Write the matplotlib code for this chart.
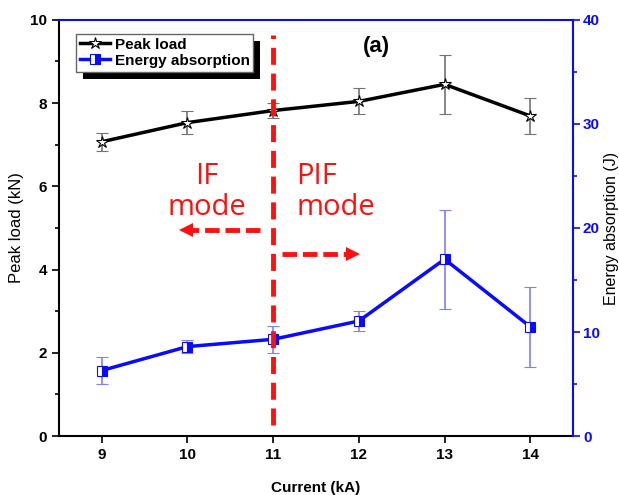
import matplotlib
matplotlib.use('Agg')
import matplotlib.pyplot as plt
from matplotlib.patches import Rectangle
from matplotlib.ticker import MultipleLocator

plt.rcParams['font.family'] = ['Liberation Sans', 'DejaVu Sans']

# data
current = [9, 10, 11, 12, 13, 14]
peak_load = [7.07, 7.53, 7.82, 8.04, 8.45, 7.69]
peak_err = [0.21, 0.27, 0.17, 0.31, 0.71, 0.44]
energy = [6.3, 8.6, 9.3, 11.06, 17.0, 10.5]
energy_err = [1.28, 0.6, 1.28, 1.0, 4.75, 3.85]

fig = plt.figure(figsize=(6.19, 4.95), dpi=100)
ax = fig.add_axes([0.095, 0.119, 0.831, 0.841])
ax2 = ax.twinx()

# peak load (left axis)
pl = ax.errorbar(current, peak_load, yerr=peak_err, color='black', lw=2.5,
                 marker='*', ms=9, mfc='white', mec='black', mew=0.8,
                 ecolor='0.45', elinewidth=1.2, capsize=4, capthick=1.2,
                 zorder=3)

# energy absorption (right axis)
en = ax2.errorbar(current, energy, yerr=energy_err, color='#0a0aff', lw=2.5,
                  marker='s', ms=7, fillstyle='right', mfc='#0a0aff',
                  mfcalt='white', mec='#0a0aff', mew=0.8,
                  ecolor='#7f7fff', elinewidth=1.2, capsize=4, capthick=1.2,
                  zorder=3)

ax.set_xlim(8.5, 14.5)
ax.set_ylim(0, 10)
ax2.set_ylim(0, 40)
ax.set_xticks(current)
ax.yaxis.set_major_locator(MultipleLocator(2))
ax.yaxis.set_minor_locator(MultipleLocator(1))
ax2.yaxis.set_major_locator(MultipleLocator(10))
ax2.yaxis.set_minor_locator(MultipleLocator(5))

for lab in ax.get_xticklabels() + ax.get_yticklabels():
    lab.set_fontweight('bold')
    lab.set_fontsize(11)
for lab in ax2.get_yticklabels():
    lab.set_fontweight('bold')
    lab.set_fontsize(11)
    lab.set_color('#0a0aff')

ax.tick_params(axis='both', which='both', direction='out', width=1.2)
ax.tick_params(axis='x', length=5)
ax.tick_params(axis='y', which='major', length=5)
ax.tick_params(axis='y', which='minor', length=3)
ax2.tick_params(axis='y', which='both', colors='#0a0aff', width=1.2, pad=2)
ax2.tick_params(axis='y', which='major', length=5)
ax2.tick_params(axis='y', which='minor', length=3)

for side in ['left', 'bottom']:
    ax.spines[side].set_linewidth(1.5)
    ax.spines[side].set_color('black')
ax2.spines['right'].set_color('#0a0aff')
ax2.spines['right'].set_linewidth(1.5)
ax2.spines['top'].set_color('#0a0aff')
ax2.spines['top'].set_linewidth(1.5)
ax2.spines['left'].set_visible(False)
ax2.spines['bottom'].set_visible(False)
ax.spines['top'].set_visible(False)
ax.spines['right'].set_visible(False)

ax.set_xlabel('Current (kA)', fontsize=11, fontweight='bold', labelpad=14)
ax.set_ylabel('Peak load (kN)', fontsize=12)
ax2.set_ylabel('Energy absorption (J)', fontsize=11.5, labelpad=3)

# mode separation line and arrows (drawn on top axis)
red = '#ff1010'
ax2.plot([11, 11], [0.26 * 4, 9.64 * 4], color=red, lw=3.5,
         dashes=(3.5, 1.8), zorder=5)
ax2.plot([10.85, 10.02], [4.95 * 4, 4.95 * 4], color=red, lw=3.5,
         dashes=(3, 1.2), zorder=5)
ax2.plot([9.98], [4.95 * 4], marker='<', ms=10, color=red, mew=0, zorder=5)
ax2.plot([11.10, 11.88], [4.375 * 4, 4.375 * 4], color=red, lw=3.5,
         dashes=(3, 1.2), zorder=5)
ax2.plot([11.93], [4.375 * 4], marker='>', ms=10, color=red, mew=0, zorder=5)

ax2.text(10.23, 5.87 * 4, 'IF\nmode', color=red, fontsize=21,
         family=['Open Sans', 'DejaVu Sans'], ha='center', va='center',
         linespacing=1.1, zorder=6)
ax2.text(11.27, 5.87 * 4, 'PIF\nmode', color=red, fontsize=21,
         family=['Open Sans', 'DejaVu Sans'], ha='left', va='center',
         multialignment='left', linespacing=1.1, zorder=6)

ax2.text(12.2, 9.36 * 4, '(a)', fontsize=16, fontweight='bold',
         ha='center', va='center', zorder=6,
         bbox=dict(facecolor='white', edgecolor='none', pad=4))

# legend with black drop shadow (line+marker handles, no error bars)
leg = ax2.legend([pl[0], en[0]], ['Peak load', 'Energy absorption'],
                 loc='upper left', bbox_to_anchor=(0.018, 0.985),
                 fancybox=False, edgecolor='0.4', framealpha=1,
                 borderpad=0.25, handlelength=2.0, handletextpad=0.3,
                 labelspacing=0.15, prop={'weight': 'bold', 'size': 11})
leg.set_zorder(10)
fig.canvas.draw()
bb = leg.get_window_extent().transformed(fig.transFigure.inverted())
shadow = Rectangle((bb.x0 + 7 / 619, bb.y0 - 7 / 495), bb.width, bb.height,
                   transform=fig.transFigure, facecolor='black',
                   edgecolor='none', zorder=9)
ax2.add_artist(shadow)

fig.savefig('out.png', dpi=100)
